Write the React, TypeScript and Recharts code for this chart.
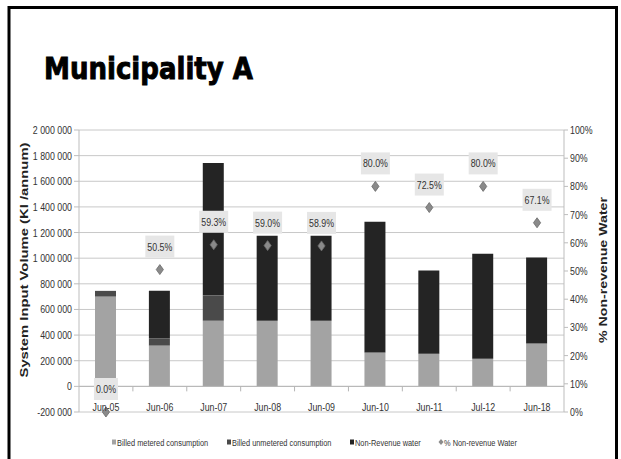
import React from 'react';
import { ComposedChart, Bar, Line, XAxis, YAxis, CartesianGrid, LabelList, ReferenceLine } from 'recharts';

const categories = ['Jun-05', 'Jun-06', 'Jun-07', 'Jun-08', 'Jun-09', 'Jun-10', 'Jun-11', 'Jul-12', 'Jun-18'];
const meteredValues = [700000, 318000, 512000, 512000, 512000, 265000, 255000, 215000, 335000];
const unmeteredValues = [45000, 55000, 196000, 0, 0, 0, 0, 0, 0];
const nrwValues = [0, 372000, 1035000, 663000, 663000, 1020000, 648000, 820000, 670000];
const nrwPercent = [0, 0.505, 0.593, 0.59, 0.589, 0.8, 0.725, 0.8, 0.671];
const leftTicks = [-200000, 0, 200000, 400000, 600000, 800000, 1000000, 1200000, 1400000, 1600000, 1800000, 2000000];
const rightTicks = [0, 0.1, 0.2, 0.3, 0.4, 0.5, 0.6, 0.7, 0.8, 0.9, 1];
const seriesNames = ['Billed metered consumption', 'Billed unmetered consumption', 'Non-Revenue water', '% Non-revenue Water'];
const seriesColors = ['#a3a3a3', '#4a4a4a', '#242424', '#8c8c8c'];

const data = categories.map((cat, i) => ({
  cat,
  metered: meteredValues[i],
  unmetered: unmeteredValues[i],
  nrw: nrwValues[i],
  pct: nrwPercent[i],
}));

const FONT = "'Liberation Sans', Arial, sans-serif";
const SQ = 0.78;
const TXT = '#333333';

const fmtNum = (v: number) => {
  const s = Math.abs(v).toString().replace(/\B(?=(\d{3})+(?!\d))/g, ' ');
  return v < 0 ? '-' + s : s;
};

const LeftTick = (props: any) => {
  const { x, y, payload } = props;
  return (
    <text transform={`translate(${x},${y}) scale(${SQ},1)`} textAnchor="end" dy="0.35em" fontSize={11.3} fontFamily={FONT} fill={TXT}>
      {fmtNum(payload.value)}
    </text>
  );
};

const RightTick = (props: any) => {
  const { x, y, payload } = props;
  return (
    <text transform={`translate(${x},${y}) scale(${SQ},1)`} textAnchor="start" dy="0.35em" fontSize={11.3} fontFamily={FONT} fill={TXT}>
      {Math.round(payload.value * 100) + '%'}
    </text>
  );
};

const XTick = (props: any) => {
  const { x, payload } = props;
  const y = props.y;
  return (
    <text transform={`translate(${x},${y - 1}) scale(${SQ},1)`} textAnchor="middle" fontSize={11.3} fontFamily={FONT} fill={TXT}>
      {payload.value}
    </text>
  );
};

const DiamondDot = (props: any) => {
  const { cx, cy, index } = props;
  if (cx == null || cy == null) return <g key={index} />;
  return (
    <path
      key={index}
      d={`M${cx},${cy - 5} L${cx + 3.6},${cy} L${cx},${cy + 5} L${cx - 3.6},${cy} Z`}
      fill="#8a8a8a"
      stroke="#6a6a6a"
      strokeWidth={0.8}
    />
  );
};

const PctLabel = (props: any) => {
  const { x, y, value } = props;
  if (x == null || y == null) return null;
  const label = (value * 100).toFixed(1) + '%';
  const w = label.length >= 5 ? 29 : 24;
  return (
    <g>
      <rect x={x - w / 2} y={y - 34} width={w} height={22} fill="#e6e6e6" />
      <text transform={`translate(${x},${y - 23}) scale(${SQ},1)`} textAnchor="middle" dy="0.36em" fontSize={11.3} fontFamily={FONT} fill={TXT}>
        {label}
      </text>
    </g>
  );
};

const ZeroAxisShape = (props: any) => {
  const { x1, y1, x2, y2 } = props;
  if (x1 == null) return null;
  const n = categories.length;
  const ticks = [];
  for (let i = 1; i < n; i++) {
    const tx = x1 + ((x2 - x1) * i) / n;
    ticks.push(<line key={i} x1={tx} y1={y1} x2={tx} y2={y1 + 5} stroke="#b5b5b5" strokeWidth={1} />);
  }
  return (
    <g>
      <line x1={x1} y1={y1} x2={x2} y2={y2} stroke="#b5b5b5" strokeWidth={1} />
      {ticks}
    </g>
  );
};

const legendX = [112, 227, 350, 439];

export default function App() {
  return (
    <div style={{ position: 'absolute', left: 0, top: 0, width: 621, height: 459, background: '#fff', overflow: 'hidden' }}>
      <div style={{ position: 'absolute', left: 0, top: 0 }}>
        <ComposedChart width={621} height={459} data={data} margin={{ top: 130, right: 17, bottom: 27, left: 19 }}>
          <CartesianGrid yAxisId="left" vertical={false} stroke="#c8c8c8" strokeWidth={1} />
          <XAxis dataKey="cat" height={20} tickSize={0} tickMargin={0} axisLine={false} tickLine={false} interval={0} tick={<XTick />} />
          <YAxis
            yAxisId="left"
            domain={[-200000, 2000000]}
            ticks={leftTicks}
            interval={0}
            width={60}
            tickSize={5}
            tickMargin={2}
            stroke="#bdbdbd"
            tick={<LeftTick />}
          />
          <YAxis
            yAxisId="right"
            orientation="right"
            domain={[0, 1]}
            ticks={rightTicks}
            interval={0}
            width={40}
            tickSize={4}
            tickMargin={2}
            stroke="#bdbdbd"
            tick={<RightTick />}
          />
          <ReferenceLine yAxisId="left" y={0} shape={<ZeroAxisShape />} />
          <Bar yAxisId="left" dataKey="metered" name={seriesNames[0]} stackId="a" fill={seriesColors[0]} barSize={21} isAnimationActive={false} />
          <Bar yAxisId="left" dataKey="unmetered" name={seriesNames[1]} stackId="a" fill={seriesColors[1]} barSize={21} isAnimationActive={false} />
          <Bar yAxisId="left" dataKey="nrw" name={seriesNames[2]} stackId="a" fill={seriesColors[2]} barSize={21} isAnimationActive={false} />
          <Line
            yAxisId="right"
            dataKey="pct"
            name={seriesNames[3]}
            stroke="none"
            dot={DiamondDot}
            activeDot={false}
            isAnimationActive={false}
          >
            <LabelList dataKey="pct" content={PctLabel} />
          </Line>
        </ComposedChart>
      </div>
      <svg width={621} height={459} style={{ position: 'absolute', left: 0, top: 0, pointerEvents: 'none' }}>
        <path d="M9,459 L9,7.5 L616.5,7.5 L616.5,459" fill="none" stroke="#000" strokeWidth={3} />
        <text x={44} y={79} fontSize={31} fontWeight="bold" fontFamily="'DejaVu Sans', 'Liberation Sans', sans-serif" fill="#000" stroke="#000" strokeWidth={1} textLength={209} lengthAdjust="spacingAndGlyphs">
          Municipality A
        </text>
        <text transform="translate(24,260) scale(0.75,1) rotate(-90)" textAnchor="middle" dy="0.35em" fontSize={14} fontWeight="bold" fontFamily={FONT} fill="#222" textLength={235} lengthAdjust="spacingAndGlyphs">
          System Input Volume (Kl /annum)
        </text>
        <text transform="translate(603,270) scale(0.75,1) rotate(-90)" textAnchor="middle" dy="0.35em" fontSize={14} fontWeight="bold" fontFamily={FONT} fill="#222" textLength={146} lengthAdjust="spacingAndGlyphs">
          % Non-revenue Water
        </text>
        {seriesNames.map((name, i) => (
          <g key={name}>
            {i < 3 ? (
              <rect x={legendX[i]} y={439.5} width={4} height={5} fill={seriesColors[i]} />
            ) : (
              <path d={`M${legendX[i] + 2},${439} L${legendX[i] + 4.5},${442} L${legendX[i] + 2},${445} L${legendX[i] - 0.5},${442} Z`} fill={seriesColors[i]} />
            )}
            <text transform={`translate(${legendX[i] + 5},${445.5}) scale(${SQ},1)`} fontSize={9.5} fontFamily={FONT} fill={TXT}>
              {name}
            </text>
          </g>
        ))}
      </svg>
    </div>
  );
}
